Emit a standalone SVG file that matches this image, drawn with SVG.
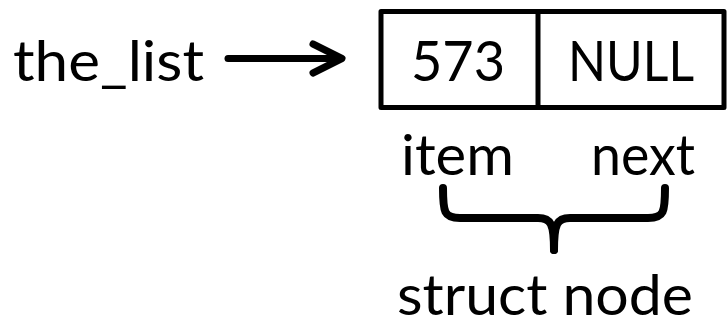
<svg xmlns="http://www.w3.org/2000/svg" width="727" height="323" viewBox="0 0 727 323">
<style>
text{font-family:Lato,"Open Sans","Liberation Sans",sans-serif;font-size:56px;fill:#000}
.box{fill:#fff;stroke:#000;stroke-width:5;stroke-linejoin:round}
.conn{fill:none;stroke:#000;stroke-width:7;stroke-linecap:round;stroke-linejoin:round}
.brace{fill:none;stroke:#000;stroke-width:8;stroke-linecap:round;stroke-linejoin:round}
</style>
<rect width="727" height="323" fill="#fff"/>
<g id="the_list">
<text x="13" y="81" textLength="191" lengthAdjust="spacingAndGlyphs">the_list</text>
</g>
<g id="node">
<rect class="box" x="381" y="11.5" width="343" height="96"/>
<line class="box" x1="538" y1="11.5" x2="538" y2="107.5"/>
<text x="411" y="81" textLength="94" lengthAdjust="spacingAndGlyphs">573</text>
<text x="568" y="81" textLength="126" lengthAdjust="spacingAndGlyphs">NULL</text>
</g>
<g id="labels">
<text x="401" y="175" textLength="113" lengthAdjust="spacingAndGlyphs">item</text>
<text x="591" y="175" textLength="104" lengthAdjust="spacingAndGlyphs">next</text>
</g>
<g id="brace">
<path class="brace" d="M443,188 C443,212 444,218 460,218 L538,218 C551,218 554,224 554,250"/>
<path class="brace" d="M665,188 C665,212 664,218 648,218 L570,218 C557,218 554,224 554,250"/>
</g>
<g id="struct_label">
<text x="397" y="315" textLength="296" lengthAdjust="spacingAndGlyphs">struct node</text>
</g>
<g id="connectors">
<line class="conn" x1="228" y1="58.5" x2="338" y2="58.5"/>
<polyline class="conn" points="313,44 342,58.5 313,73"/>
</g>
</svg>
